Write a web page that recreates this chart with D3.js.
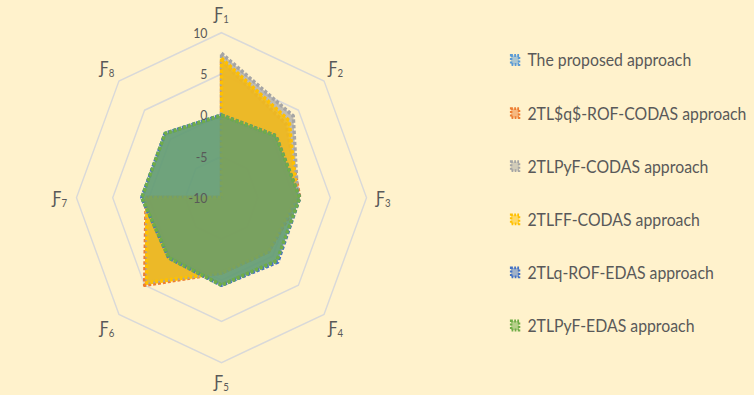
<!DOCTYPE html>
<html>
<head>
<meta charset="utf-8">
<script src="https://cdn.jsdelivr.net/npm/d3@7"></script>
<style>
body{margin:0;background:#FFF2CC;}
svg{display:block;}
</style>
</head>
<body>
<svg width="754" height="395"></svg>
<script>
// data
var categories = ["1","2","3","4","5","6","7","8"];
var seriesNames = ["The proposed approach","2TL$q$-ROF-CODAS approach","2TLPyF-CODAS approach","2TLFF-CODAS approach","2TLq-ROF-EDAS approach","2TLPyF-EDAS approach"];
var proposed  = [0, 0.6, 0.8, 0.8, 0.6, 0.3, 1.0, 1.0];
var qrofCodas = [6.6, 2.6, 0.8, -0.8, -0.9, 5.0, 0.4, -10];
var pyfCodas  = [7.5, 4.0, 0.5, -0.8, -0.9, 4.5, 0.3, -10];
var ffCodas   = [6.9, 3.2, 0.4, -0.8, -0.9, 4.6, 0.3, -10];
var qrofEdas  = [0, 0.6, 0.8, 1.0, 0.6, 0.3, 1.0, 1.0];
var pyfEdas   = [0, 0.6, 0.8, 0.8, 0.6, 0.3, 1.0, 1.0];
var ticks = [-10, -5, 0, 5, 10];

var seriesValues = [proposed, qrofCodas, pyfCodas, ffCodas, qrofEdas, pyfEdas];
var colors = ["#5B9BD5","#ED7D31","#A5A5A5","#FFC000","#4472C4","#70AD47"];
var fillAlpha = [0.5, 0.7, 0.7, 0.72, 0.6, 0.6];

var sx = 0.879; // picture is squeezed horizontally
var cx = 252, cy = 197.7, R = 165;

var svg = d3.select("svg");
var g = svg.append("g").attr("transform", "scale(" + sx + ",1)");

var r = d3.scaleLinear().domain([-10, 10]).range([0, R]);
var ang = d3.scaleLinear().domain([0, categories.length]).range([0, 2 * Math.PI]);

var line = d3.lineRadial()
    .angle(function(d, i) { return ang(i); })
    .radius(function(d) { return r(d); })
    .curve(d3.curveLinearClosed);

var chart = g.append("g").attr("transform", "translate(" + cx + "," + cy + ")");

//grid
chart.selectAll("path.grid")
    .data(ticks.slice(1))
    .enter().append("path")
    .attr("class", "grid")
    .attr("d", function(t) { return line(categories.map(function() { return t; })); })
    .attr("fill", "none")
    .attr("stroke", "#D9D9D9")
    .attr("stroke-width", 1.6);

//series
seriesValues.forEach(function(vals, k) {
    chart.append("path")
        .attr("d", line(vals))
        .attr("fill", colors[k])
        .attr("fill-opacity", fillAlpha[k])
        .attr("stroke", colors[k])
        .attr("stroke-width", 3.8)
        .attr("stroke-dasharray", "3.4,2.2")
        .attr("stroke-linejoin", "round");
});

//tick labels
chart.selectAll("text.tick")
    .data(ticks)
    .enter().append("text")
    .attr("class", "tick")
    .attr("x", -16)
    .attr("y", function(t) { return -r(t); })
    .attr("dy", "0.36em")
    .attr("text-anchor", "end")
    .attr("font-family", "Lato, sans-serif")
    .attr("font-size", 14)
    .attr("fill", "#595959")
    .text(function(t) { return t; });

//category labels
var cat = chart.selectAll("text.cat")
    .data(categories)
    .enter().append("text")
    .attr("class", "cat")
    .attr("x", function(d, i) { return (R + 19) * Math.sin(ang(i)); })
    .attr("y", function(d, i) { return -(R + 19) * Math.cos(ang(i)); })
    .attr("dy", "0.35em")
    .attr("text-anchor", "middle")
    .attr("font-family", "Lato, 'DejaVu Sans', sans-serif")
    .attr("font-size", 18)
    .attr("fill", "#595959");
cat.append("tspan").text("Ƒ");
cat.append("tspan").attr("font-size", 11).attr("dy", 3).text(function(d) { return d; });

//legend
var legend = g.append("g").attr("transform", "translate(586,60)");
var item = legend.selectAll("g.item")
    .data(seriesNames)
    .enter().append("g")
    .attr("class", "item")
    .attr("transform", function(d, i) { return "translate(0," + (i * 53.1) + ")"; });
item.append("rect")
    .attr("x", -4.5).attr("y", -4.5).attr("width", 9).attr("height", 9)
    .attr("fill", function(d, i) { return colors[i]; })
    .attr("fill-opacity", 0.5)
    .attr("stroke", function(d, i) { return colors[i]; })
    .attr("stroke-width", 2.8)
    .attr("stroke-dasharray", "2,1.5");
item.append("text")
    .attr("x", 14)
    .attr("dy", "0.36em")
    .attr("font-family", "Lato, sans-serif")
    .attr("font-size", 18)
    .attr("fill", "#595959")
    .text(function(d) { return d; });
</script>
</body>
</html>
